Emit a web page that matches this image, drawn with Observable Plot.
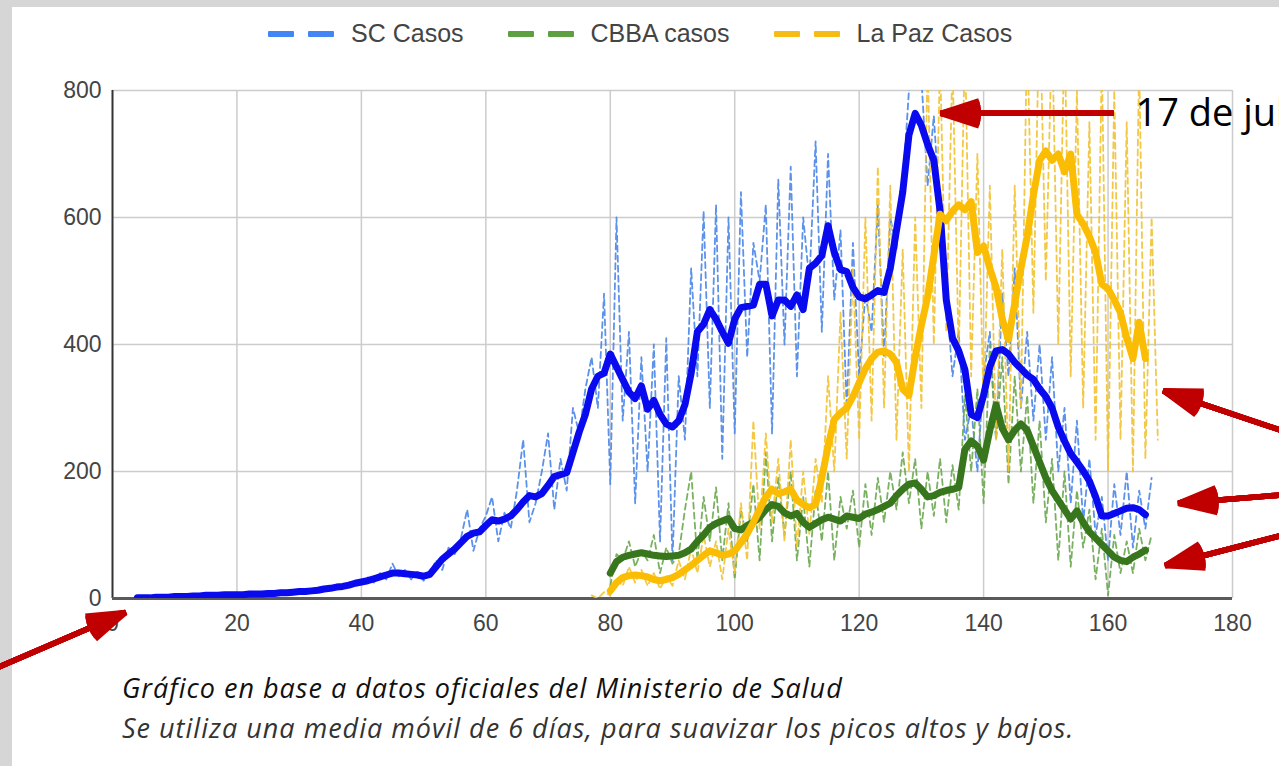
<!DOCTYPE html>
<html><head><meta charset="utf-8">
<script src="https://cdn.jsdelivr.net/npm/d3@7"></script>
<script src="https://cdn.jsdelivr.net/npm/@observablehq/plot@0.6"></script>
<style>
html,body{margin:0;padding:0;overflow:hidden;background:#d6d6d6;}
#page{position:relative;width:1279px;height:766px;overflow:hidden;}
#panel{position:absolute;left:12px;top:7px;right:0;bottom:0;background:#fff;}
#chart{position:absolute;left:0;top:0;}
#legend{position:absolute;left:268px;top:19px;display:flex;align-items:center;font-family:"Liberation Sans",Arial,sans-serif;font-size:25px;color:#444;white-space:nowrap;}
.item{display:flex;align-items:center;margin-right:44px;}
.dash{display:inline-block;width:26px;height:6px;border-radius:1px;}
.dash + .dash{margin-left:14px;}
.label{margin-left:17px;}
#caption{position:absolute;left:122px;top:668px;font-family:"Open Sans",sans-serif;font-style:italic;font-size:27px;letter-spacing:1px;line-height:40px;white-space:nowrap;}
#caption div:first-child{color:#111;}
#caption div:last-child{color:#333;}
</style></head>
<body>
<div id="page">
  <div id="panel"></div>
  <div id="chart"></div>
  <div id="legend"></div>
  <div id="caption"></div>
</div>
<script>
// ---- tick values
const xTicks = [0, 20, 40, 60, 80, 100, 120, 140, 160, 180];
const yTicks = [0, 200, 400, 600, 800];

// ---- series names / colours
const seriesNames = ["SC Casos", "CBBA casos", "La Paz Casos"];
const dashColors = ["#4a86e8", "#6aa84f", "#f1c232"];
const mediaColors = ["#0a0aef", "#38761d", "#fbbc04"];
const legendColors = ["#4285f4", "#5ea041", "#f6bc16"];

// ---- Santa Cruz: daily cases (dashed) and 6-day moving average (thick)
const scCasosStart = 4;
const scCasos = [
  0,2,0,3,1,2,4,2,3,5,
  3,6,4,6,5,7,6,5,8,6,
  9,7,10,8,10,12,9,13,11,15,
  14,18,15,22,18,28,22,33,25,40,
  30,55,35,45,30,42,28,40,60,45,
  80,70,95,140,75,110,130,160,90,135,
  110,170,250,120,150,200,260,140,220,170,
  300,260,330,380,300,480,180,600,280,420,
  150,380,200,400,90,410,60,350,250,520,
  350,610,300,620,220,600,260,640,380,560,
  500,620,260,660,400,680,350,600,500,720,
  420,700,470,580,300,560,350,480,420,620,
  380,600,550,650,800,850,820,650,760,600,
  480,350,420,250,300,200,350,420,250,480,
  350,520,300,420,280,400,250,380,200,300,
  150,280,120,220,100,160,60,180,100,200,
  80,170,110,190
];
const scMediaStart = 4;
const scMedia = [
  1,1,1,2,2,2,3,3,3,4,
  4,5,5,5,6,6,6,6,7,7,
  7,8,8,9,9,10,11,11,12,13,
  15,16,18,19,21,24,26,28,31,34,
  37,40,40,39,38,37,35,38,50,62,
  70,78,88,98,103,105,115,124,122,125,
  130,140,152,162,160,165,178,192,195,198,
  230,262,290,330,350,355,385,365,345,325,
  315,335,298,312,290,275,270,280,305,355,
  420,432,455,440,420,402,440,458,460,462,
  495,495,445,470,470,460,478,455,520,528,
  540,587,545,518,515,490,475,472,478,485,
  482,520,580,640,730,764,745,715,690,610,
  470,410,390,360,290,285,320,365,390,392,
  385,372,362,352,345,330,318,300,270,248,
  228,215,201,185,160,130,130,134,138,142,
  143,140,132
];

// ---- Cochabamba
const cbbaCasosStart = 80;
const cbbaCasos = [
  20,70,60,90,50,75,60,100,40,80,
  55,70,140,200,60,160,90,175,60,150,
  30,140,90,180,60,230,90,190,100,200,
  60,160,50,170,90,200,60,160,110,170,
  80,180,100,190,120,200,140,230,150,220,
  110,200,130,220,120,210,140,320,200,330,
  150,400,250,380,180,350,200,320,150,280,
  120,220,60,200,50,170,80,140,30,110,
  5,100,40,90,40,110,60,100
];
const cbbaMediaStart = 80;
const cbbaMedia = [
  40,58,65,68,70,72,70,68,67,66,
  67,68,72,78,90,100,112,118,122,126,
  110,108,115,120,128,140,148,145,135,130,
  134,120,112,118,124,128,125,122,130,128,
  126,133,136,140,145,150,162,172,180,182,
  172,160,162,167,170,172,175,235,248,240,
  218,265,305,268,250,265,275,265,240,215,
  190,170,155,140,125,138,120,105,95,85,
  75,65,60,58,65,70,76
];

// ---- La Paz
const lpzCasosStart = 77;
const lpzCasos = [
  5,0,10,5,30,20,50,25,45,20,
  40,15,35,20,60,30,80,40,100,50,
  90,30,110,40,150,60,280,110,260,120,
  220,90,250,80,200,100,220,150,350,200,
  450,220,520,250,600,280,680,300,650,250,
  550,200,600,300,850,400,850,420,850,380,
  880,350,700,300,650,250,550,200,650,300,
  900,450,950,500,900,400,900,350,800,300,
  750,250,850,200,800,250,750,200,850,220,
  600,250
];
const lpzMediaStart = 80;
const lpzMedia = [
  12,25,33,36,37,36,34,30,28,30,
  33,38,45,52,60,68,75,72,68,70,
  75,88,102,120,140,160,172,165,168,172,
  155,148,143,148,190,240,282,292,300,318,
  340,362,378,388,390,385,372,330,320,380,
  430,475,540,605,595,610,620,612,625,545,
  555,520,490,440,408,465,520,570,635,690,
  705,690,700,672,700,605,590,570,545,495,
  488,470,450,410,378,435,378
];

// ---- annotations (data coordinates)
const annotArrows = [
  {x1: 160.9, y1: 764, x2: 133.1, y2: 764},
  {x1: -18.8, y1: -110, x2: 2.1, y2: -22},
  {x1: 194.1, y1: 244, x2: 168.9, y2: 327},
  {x1: 194.1, y1: 168, x2: 171.3, y2: 150},
  {x1: 194.1, y1: 115, x2: 169.2, y2: 52}
];
const annotTexts = [{x: 164.4, y: 764, text: "17 de julio"}];
const captionLines = [
  "Gráfico en base a datos oficiales del Ministerio de Salud",
  "Se utiliza una media móvil de 6 días, para suavizar los picos altos y bajos."
];
const arrowFanAngles = [36, 29, 22, 15, 8, 1];

const toRows = (start, arr) => arr.map((v, i) => ({day: start + i, value: v}));

const rawSeries = [toRows(scCasosStart, scCasos), toRows(cbbaCasosStart, cbbaCasos), toRows(lpzCasosStart, lpzCasos)];
const mediaSeries = [toRows(scMediaStart, scMedia), toRows(cbbaMediaStart, cbbaMedia), toRows(lpzMediaStart, lpzMedia)];

const plot = Plot.plot({
  width: 1279,
  height: 766,
  marginLeft: 112,
  marginRight: 47,
  marginTop: 90,
  marginBottom: 168,
  style: {background: "transparent", overflow: "visible", fontFamily: "'Liberation Sans', Arial, sans-serif"},
  x: {domain: [0, 180], label: null},
  y: {domain: [0, 800], label: null},
  marks: [
    Plot.gridY(yTicks, {stroke: "#cccccc", strokeOpacity: 1, strokeWidth: 1.5}),
    Plot.gridX(xTicks.filter(d => d > 0), {stroke: "#cccccc", strokeOpacity: 1, strokeWidth: 1.5}),
    Plot.ruleX([0], {stroke: "#333", strokeWidth: 2}),
    Plot.ruleY([0], {stroke: "#5a5a5a", strokeWidth: 3}),
    ...rawSeries.map((rows, k) => Plot.line(rows, {
      x: "day", y: "value", stroke: dashColors[k], strokeWidth: 1.8,
      strokeDasharray: "6,4", strokeOpacity: 0.9, clip: true
    })),
    ...mediaSeries.map((rows, k) => Plot.line(rows, {
      x: "day", y: "value", stroke: mediaColors[k], strokeWidth: 7,
      strokeLinejoin: "round", strokeLinecap: "round", clip: true
    })),
    Plot.axisX(xTicks, {tickSize: 0, tickPadding: 16, fontSize: 23, fill: "#444", label: null}),
    Plot.axisY(yTicks, {tickSize: 0, tickPadding: 11, fontSize: 23, fill: "#444", label: null}),
    ...arrowFanAngles.map(a => Plot.arrow(annotArrows, {
      x1: "x1", y1: "y1", x2: "x2", y2: "y2", stroke: "#c00000",
      strokeWidth: 5.5, headLength: 11, headAngle: a, strokeLinejoin: "miter", strokeLinecap: "butt"
    })),
    Plot.text(annotTexts, {x: "x", y: "y", text: "text", textAnchor: "start",
      fontSize: 38, fontFamily: "'Open Sans', sans-serif", fill: "#000"})
  ]
});
document.getElementById("chart").appendChild(plot);

// legend
const legend = d3.select("#legend");
seriesNames.forEach((name, k) => {
  const it = legend.append("div").attr("class", "item");
  it.append("span").attr("class", "dash").style("background", legendColors[k]);
  it.append("span").attr("class", "dash").style("background", legendColors[k]);
  it.append("span").attr("class", "label").text(name);
});

// caption
d3.select("#caption").selectAll("div").data(captionLines).join("div").text(d => d);
</script>
</body></html>
